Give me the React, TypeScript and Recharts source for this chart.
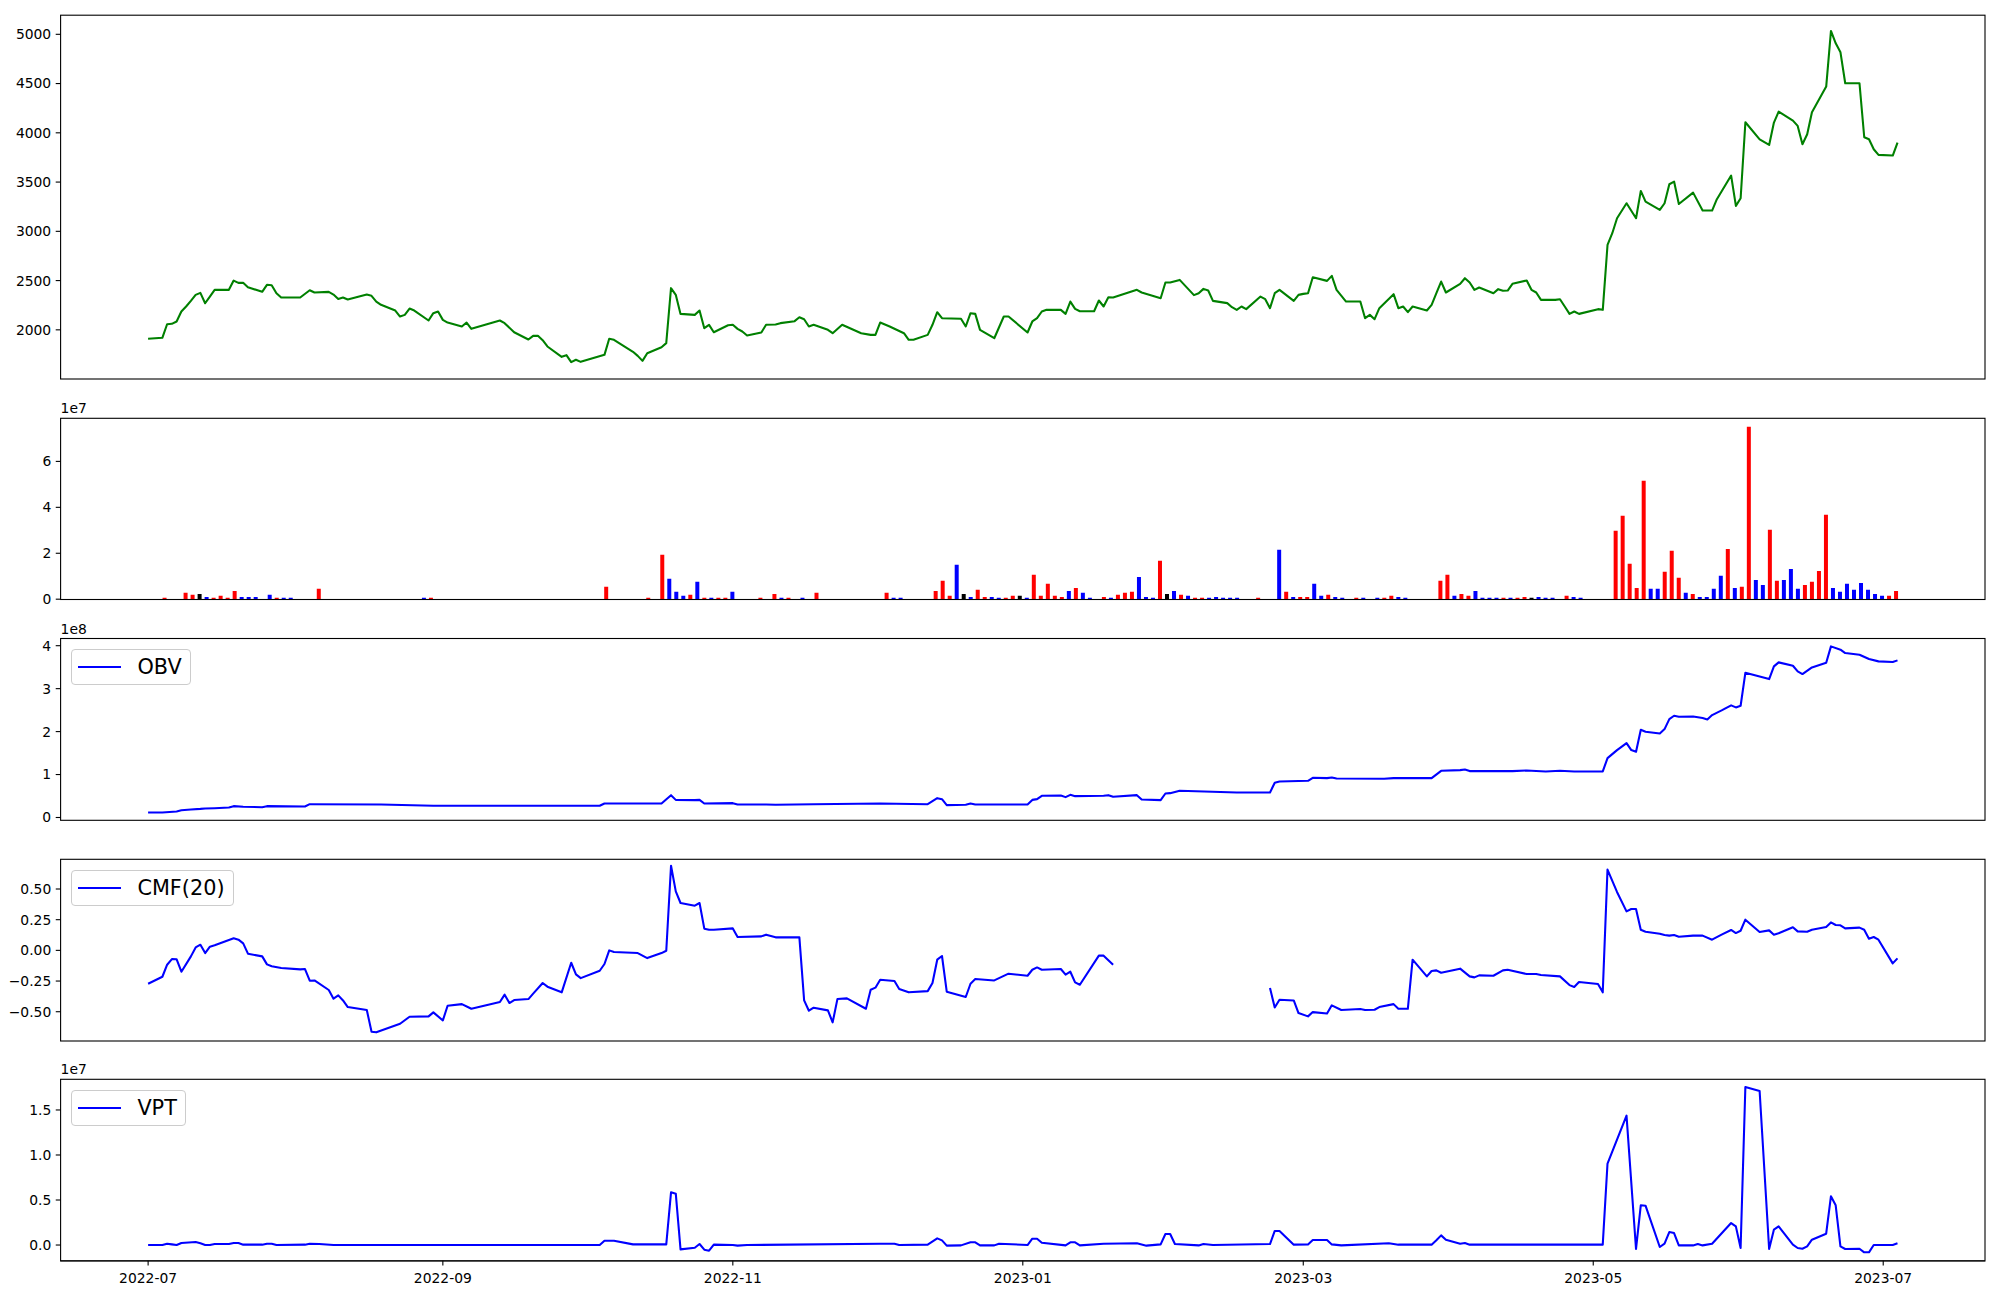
import React from "react"
import { LineChart, Line, BarChart, Bar, Cell, XAxis, YAxis, Legend } from "recharts"

// ---- data ----
// x for the line panels = days since 2022-07-01
const monthTicks = [0, 62, 123, 184, 243, 304, 365]
const monthLabels = ["2022-07", "2022-09", "2022-11", "2023-01", "2023-03", "2023-05", "2023-07"]

const priceSeries: [number, number][] = [
  [0, 1909], [3, 1919], [4, 2057], [5, 2061], [6, 2085], [7, 2186], [8, 2237], [9, 2294], [10, 2355], [11, 2375],
  [12, 2270], [13, 2338], [14, 2406], [17, 2406], [18, 2500], [19, 2477], [20, 2477], [21, 2433], [24, 2386], [25, 2457],
  [26, 2453], [27, 2372], [28, 2328], [32, 2328], [34, 2402], [35, 2379], [38, 2385], [39, 2358], [40, 2314], [41, 2328],
  [42, 2308], [46, 2358], [47, 2345], [48, 2287], [49, 2254], [52, 2196], [53, 2135], [54, 2152], [55, 2216], [56, 2196],
  [59, 2095], [60, 2169], [61, 2186], [62, 2101], [63, 2074], [66, 2034], [67, 2074], [68, 2010], [74, 2095], [75, 2068],
  [77, 1976], [80, 1902], [81, 1939], [82, 1939], [83, 1895], [84, 1831], [87, 1726], [88, 1743], [89, 1672], [90, 1696],
  [91, 1675], [96, 1746], [97, 1909], [98, 1899], [102, 1777], [103, 1736], [104, 1685], [105, 1763], [108, 1824], [109, 1865],
  [110, 2423], [111, 2355], [112, 2162], [115, 2152], [116, 2196], [117, 2017], [118, 2051], [119, 1976], [122, 2047], [123, 2051],
  [124, 2010], [125, 1983], [126, 1943], [129, 1973], [130, 2051], [132, 2054], [133, 2068], [136, 2088], [137, 2128], [138, 2108],
  [139, 2034], [140, 2051], [143, 2000], [144, 1966], [146, 2051], [150, 1966], [152, 1949], [153, 1949], [154, 2074], [156, 2034],
  [159, 1966], [160, 1899], [161, 1899], [164, 1949], [165, 2051], [166, 2179], [167, 2118], [171, 2112], [172, 2034], [173, 2169],
  [174, 2162], [175, 2000], [178, 1915], [180, 2135], [181, 2135], [185, 1973], [186, 2085], [187, 2118], [188, 2186], [189, 2203],
  [192, 2203], [193, 2162], [194, 2287], [195, 2213], [196, 2189], [199, 2189], [200, 2298], [201, 2237], [202, 2331], [203, 2328],
  [208, 2406], [209, 2379], [213, 2321], [214, 2480], [215, 2480], [217, 2507], [220, 2352], [221, 2372], [222, 2416], [223, 2399],
  [224, 2294], [227, 2271], [228, 2230], [229, 2203], [230, 2237], [231, 2210], [234, 2338], [235, 2311], [236, 2220], [237, 2372],
  [238, 2406], [241, 2294], [242, 2355], [243, 2365], [244, 2372], [245, 2534], [248, 2497], [249, 2548], [250, 2406], [252, 2287],
  [255, 2287], [256, 2118], [257, 2152], [258, 2108], [259, 2220], [262, 2362], [263, 2220], [264, 2237], [265, 2179], [266, 2237],
  [269, 2196], [270, 2254], [271, 2372], [272, 2490], [273, 2379], [276, 2467], [277, 2524], [278, 2480], [279, 2406], [280, 2430],
  [283, 2372], [284, 2413], [285, 2396], [286, 2399], [287, 2467], [290, 2501], [291, 2406], [292, 2379], [293, 2304], [296, 2304],
  [297, 2311], [298, 2237], [299, 2162], [300, 2186], [301, 2162], [305, 2210], [306, 2203], [307, 2862], [308, 2981], [309, 3133],
  [311, 3285], [313, 3133], [314, 3410], [315, 3302], [318, 3218], [319, 3285], [320, 3478], [321, 3505], [322, 3278], [325, 3393],
  [327, 3211], [329, 3211], [330, 3326], [333, 3566], [334, 3258], [335, 3336], [336, 4107], [339, 3934], [341, 3877], [342, 4104],
  [343, 4215], [346, 4124], [347, 4070], [348, 3884], [349, 3985], [350, 4208], [353, 4469], [354, 5034], [355, 4909], [356, 4817],
  [357, 4503], [360, 4503], [361, 3955], [362, 3934], [363, 3833], [364, 3776], [367, 3769], [368, 3901],
]

// volume: [bar index, volume in 1e7, direction 1 up / -1 down / 0 flat]
const volumeBars: [number, number, number][] = [
  [2, 0.06, 1], [5, 0.28, 1], [6, 0.19, 1], [7, 0.23, 0], [8, 0.1, -1], [9, 0.06, 1], [10, 0.15, 1], [11, 0.06, 1],
  [12, 0.36, 1], [13, 0.1, -1], [14, 0.1, -1], [15, 0.1, -1], [17, 0.19, -1], [18, 0.06, 1], [19, 0.06, -1], [20, 0.06, -1],
  [24, 0.45, 1], [39, 0.06, -1], [40, 0.06, 1], [65, 0.54, 1], [71, 0.06, 1], [73, 1.93, 1], [74, 0.89, -1], [75, 0.32, -1],
  [76, 0.15, -1], [77, 0.19, 1], [78, 0.76, -1], [79, 0.06, 1], [80, 0.06, -1], [81, 0.06, 1], [82, 0.06, 1], [83, 0.32, -1],
  [87, 0.06, 1], [89, 0.23, 1], [90, 0.06, -1], [91, 0.06, 1], [93, 0.06, -1], [95, 0.28, 1], [105, 0.28, 1], [106, 0.06, -1],
  [107, 0.06, -1], [112, 0.36, 1], [113, 0.8, 1], [114, 0.15, 1], [115, 1.5, -1], [116, 0.23, 0], [117, 0.1, -1], [118, 0.41, 1],
  [119, 0.1, 1], [120, 0.1, -1], [121, 0.06, -1], [122, 0.06, 1], [123, 0.15, 1], [124, 0.15, 0], [125, 0.06, -1], [126, 1.06, 1],
  [127, 0.15, 1], [128, 0.67, 1], [129, 0.15, 1], [130, 0.1, 1], [131, 0.36, -1], [132, 0.49, 1], [133, 0.28, -1], [134, 0.06, -1],
  [136, 0.1, 1], [137, 0.06, -1], [138, 0.19, 1], [139, 0.28, 1], [140, 0.32, 1], [141, 0.97, -1], [142, 0.1, -1], [143, 0.06, -1],
  [144, 1.67, 1], [145, 0.23, 0], [146, 0.36, -1], [147, 0.19, 1], [148, 0.15, -1], [149, 0.06, 1], [150, 0.06, 1], [151, 0.06, -1],
  [152, 0.1, -1], [153, 0.06, -1], [154, 0.06, -1], [155, 0.06, -1], [158, 0.06, 1], [161, 2.15, -1], [162, 0.32, 1], [163, 0.1, -1],
  [164, 0.1, 1], [165, 0.1, 1], [166, 0.67, -1], [167, 0.15, -1], [168, 0.19, 1], [169, 0.1, -1], [170, 0.06, -1], [172, 0.06, 1],
  [173, 0.06, -1], [175, 0.06, -1], [176, 0.06, 1], [177, 0.15, 1], [178, 0.1, -1], [179, 0.06, -1], [184, 0.8, 1], [185, 1.06, 1],
  [186, 0.15, -1], [187, 0.23, 1], [188, 0.15, 1], [189, 0.36, -1], [190, 0.06, -1], [191, 0.06, -1], [192, 0.06, -1], [193, 0.06, 1],
  [194, 0.06, -1], [195, 0.06, 1], [196, 0.1, 1], [197, 0.06, 0], [198, 0.1, -1], [199, 0.06, -1], [200, 0.06, -1], [202, 0.15, 1],
  [203, 0.1, -1], [204, 0.06, -1], [209, 2.98, 1], [210, 3.63, 1], [211, 1.54, 1], [212, 0.49, 1], [213, 5.16, 1], [214, 0.45, -1],
  [215, 0.45, -1], [216, 1.19, 1], [217, 2.11, 1], [218, 0.93, 1], [219, 0.28, -1], [220, 0.23, 1], [221, 0.1, -1], [222, 0.1, -1],
  [223, 0.45, -1], [224, 1.02, -1], [225, 2.19, 1], [226, 0.49, -1], [227, 0.54, 1], [228, 7.51, 1], [229, 0.84, -1], [230, 0.62, -1],
  [231, 3.02, 1], [232, 0.8, 1], [233, 0.84, -1], [234, 1.32, -1], [235, 0.45, -1], [236, 0.62, 1], [237, 0.76, 1], [238, 1.23, 1],
  [239, 3.68, 1], [240, 0.49, -1], [241, 0.32, -1], [242, 0.67, -1], [243, 0.41, -1], [244, 0.71, -1], [245, 0.41, -1], [246, 0.23, -1],
  [247, 0.15, -1], [248, 0.15, 1], [249, 0.36, 1],
]

// OBV in 1e8
const obvSeries: [number, number][] = [
  [0, 0.117], [3, 0.117], [6, 0.14], [7, 0.17], [9, 0.186], [11, 0.2], [12, 0.21], [14, 0.217], [17, 0.233], [18, 0.264],
  [20, 0.249], [24, 0.24], [25, 0.264], [33, 0.256], [34, 0.31], [49, 0.303], [60, 0.272], [95, 0.272], [96, 0.326], [108, 0.326],
  [110, 0.52], [111, 0.41], [115, 0.404], [116, 0.41], [117, 0.326], [123, 0.334], [124, 0.303], [130, 0.303], [132, 0.295], [140, 0.31],
  [154, 0.326], [164, 0.31], [166, 0.45], [167, 0.427], [168, 0.287], [172, 0.295], [173, 0.326], [174, 0.303], [185, 0.303], [186, 0.41],
  [187, 0.427], [188, 0.505], [192, 0.513], [193, 0.474], [194, 0.528], [195, 0.497], [201, 0.505], [202, 0.52], [203, 0.482], [208, 0.52],
  [209, 0.419], [213, 0.404], [214, 0.559], [215, 0.567], [217, 0.621], [229, 0.583], [236, 0.583], [237, 0.808], [238, 0.839], [244, 0.854],
  [245, 0.924], [248, 0.917], [249, 0.932], [250, 0.909], [260, 0.901], [262, 0.917], [270, 0.917], [272, 1.087], [276, 1.103], [277, 1.118],
  [278, 1.08], [287, 1.08], [290, 1.095], [294, 1.072], [297, 1.087], [300, 1.072], [306, 1.072], [307, 1.383], [309, 1.569], [311, 1.732],
  [312, 1.569], [313, 1.53], [314, 2.043], [315, 1.996], [318, 1.957], [319, 2.058], [320, 2.291], [321, 2.369], [322, 2.346], [325, 2.353],
  [327, 2.315], [328, 2.283], [329, 2.384], [331, 2.493], [333, 2.61], [334, 2.563], [335, 2.602], [336, 3.371], [341, 3.223], [342, 3.518],
  [343, 3.612], [346, 3.534], [347, 3.402], [348, 3.34], [350, 3.495], [353, 3.604], [354, 3.984], [356, 3.907], [357, 3.829], [360, 3.79],
  [362, 3.689], [364, 3.635], [367, 3.619], [368, 3.658],
]

// CMF(20); null = missing stretch
const cmfSeries: [number, number | null][] = [
  [0, -0.272], [3, -0.215], [4, -0.117], [5, -0.071], [6, -0.073], [7, -0.174], [9, -0.049], [10, 0.024], [11, 0.046], [12, -0.022],
  [13, 0.03], [14, 0.041], [18, 0.098], [19, 0.087], [20, 0.057], [21, -0.027], [24, -0.049], [25, -0.114], [26, -0.13], [28, -0.144],
  [32, -0.155], [33, -0.152], [34, -0.247], [35, -0.245], [38, -0.323], [39, -0.394], [40, -0.367], [41, -0.408], [42, -0.462], [46, -0.486],
  [47, -0.663], [48, -0.668], [53, -0.598], [55, -0.541], [59, -0.538], [60, -0.505], [62, -0.571], [63, -0.451], [66, -0.438], [68, -0.476],
  [74, -0.421], [75, -0.361], [76, -0.429], [77, -0.405], [80, -0.397], [81, -0.353], [83, -0.266], [84, -0.296], [87, -0.342], [89, -0.101],
  [90, -0.196], [91, -0.226], [95, -0.166], [96, -0.111], [97, 0.0], [98, -0.014], [103, -0.022], [105, -0.063], [108, -0.022], [109, -0.003],
  [110, 0.69], [111, 0.481], [112, 0.386], [115, 0.364], [116, 0.386], [117, 0.177], [118, 0.168], [119, 0.168], [123, 0.179], [124, 0.109],
  [129, 0.114], [130, 0.128], [132, 0.106], [137, 0.106], [138, -0.408], [139, -0.492], [140, -0.467], [143, -0.489], [144, -0.587], [145, -0.397],
  [147, -0.391], [151, -0.476], [152, -0.321], [153, -0.304], [154, -0.239], [157, -0.25], [158, -0.315], [160, -0.342], [164, -0.332], [165, -0.266],
  [166, -0.076], [167, -0.046], [168, -0.337], [172, -0.38], [173, -0.272], [174, -0.234], [178, -0.245], [181, -0.19], [185, -0.207], [186, -0.158],
  [187, -0.139], [188, -0.158], [192, -0.152], [193, -0.198], [194, -0.174], [195, -0.261], [196, -0.28], [200, -0.043], [201, -0.043], [203, -0.117],
  [220, null],
  [236, -0.307], [237, -0.465], [238, -0.402], [241, -0.408], [242, -0.511], [244, -0.538], [245, -0.503], [248, -0.514], [249, -0.448], [251, -0.486],
  [255, -0.478], [256, -0.486], [258, -0.484], [259, -0.462], [262, -0.438], [263, -0.476], [265, -0.476], [266, -0.076], [269, -0.212], [270, -0.168],
  [271, -0.163], [272, -0.182], [276, -0.149], [278, -0.212], [279, -0.22], [280, -0.204], [283, -0.207], [285, -0.163], [286, -0.158], [290, -0.193],
  [292, -0.193], [293, -0.201], [297, -0.212], [299, -0.283], [300, -0.299], [301, -0.258], [305, -0.274], [306, -0.342], [307, 0.658], [309, 0.476],
  [311, 0.318], [312, 0.337], [313, 0.337], [314, 0.168], [315, 0.152], [318, 0.136], [319, 0.125], [320, 0.12], [321, 0.125], [322, 0.111],
  [325, 0.12], [327, 0.12], [329, 0.087], [331, 0.128], [333, 0.166], [334, 0.141], [335, 0.16], [336, 0.25], [339, 0.149], [341, 0.163],
  [342, 0.128], [343, 0.139], [346, 0.188], [347, 0.155], [349, 0.152], [350, 0.168], [353, 0.19], [354, 0.228], [355, 0.207], [356, 0.204],
  [357, 0.179], [360, 0.185], [361, 0.168], [362, 0.095], [363, 0.109], [364, 0.087], [367, -0.106], [368, -0.065],
]

// VPT in 1e7
const vptSeries: [number, number][] = [
  [0, 0], [3, 0], [4, 0.015], [5, 0.007], [6, 0], [7, 0.022], [10, 0.033], [11, 0.019], [12, 0], [13, 0],
  [14, 0.011], [17, 0.011], [18, 0.022], [19, 0.022], [20, 0.004], [24, 0.004], [25, 0.015], [26, 0.015], [27, 0], [33, 0.004],
  [34, 0.015], [36, 0.011], [39, 0], [95, 0], [96, 0.048], [98, 0.048], [102, 0.007], [109, 0.007], [110, 0.585], [111, 0.57],
  [112, -0.048], [115, -0.03], [116, 0.011], [117, -0.052], [118, -0.063], [119, 0.004], [123, 0], [124, -0.007], [126, 0], [154, 0.015],
  [157, 0.015], [158, 0], [164, 0.004], [166, 0.074], [167, 0.052], [168, -0.007], [171, -0.004], [173, 0.03], [174, 0.03], [175, -0.004],
  [178, -0.004], [179, 0.015], [185, 0], [186, 0.07], [187, 0.07], [188, 0.026], [193, -0.004], [194, 0.03], [195, 0.03], [196, -0.004],
  [201, 0.015], [208, 0.019], [210, -0.007], [213, 0.007], [214, 0.122], [215, 0.122], [216, 0.011], [221, -0.004], [222, 0.011], [224, 0],
  [236, 0.011], [237, 0.156], [238, 0.156], [241, 0.004], [244, 0.007], [245, 0.056], [248, 0.056], [249, 0.007], [251, -0.004], [261, 0.019],
  [263, 0.004], [270, 0.004], [271, 0.052], [272, 0.107], [273, 0.059], [276, 0.015], [277, 0.022], [278, 0.004], [306, 0.004], [307, 0.904],
  [311, 1.437], [313, -0.044], [314, 0.441], [315, 0.437], [318, -0.022], [319, 0.015], [320, 0.144], [321, 0.133], [322, -0.004], [325, -0.004],
  [326, 0.011], [327, -0.004], [329, 0.015], [333, 0.244], [334, 0.207], [335, -0.033], [336, 1.756], [339, 1.711], [341, -0.044], [342, 0.17],
  [343, 0.207], [346, 0.004], [347, -0.033], [348, -0.041], [349, -0.015], [350, 0.059], [353, 0.126], [354, 0.541], [355, 0.441], [356, -0.015],
  [357, -0.044], [360, -0.041], [361, -0.081], [362, -0.081], [363, 0], [367, 0], [368, 0.019],
]

// ---- layout ----
const FONT = "'DejaVu Sans', sans-serif"
const W = 2000
const PLOT_LEFT = 60.6
const PLOT_RIGHT = 1985
const PAD = 10
const DAY_DOMAIN: [number, number] = [-18.4, 386.4]
const BAR_DOMAIN: [number, number] = [-12.75, 261.75]

const axisStroke = { stroke: "#000", strokeWidth: 1.1 }
const tickStyle = { fill: "#000", fontSize: 13.9, fontFamily: FONT }

const dirColor = (dir: number) => (dir > 0 ? "#ff0000" : dir < 0 ? "#0000ff" : "#000000")
const minus = (s: string) => s.replace("-", "\u2212")

function LegendBox({ payload }: any) {
  const item = payload?.[0]
  if (!item) return null
  return (
    <div
      style={{
        display: "inline-flex", alignItems: "center", height: 36, boxSizing: "border-box",
        border: "1px solid #cccccc", borderRadius: 4, background: "rgba(255,255,255,0.8)",
        padding: "0 8px 0 6px", fontFamily: FONT, fontSize: 20.8, color: "#000", whiteSpace: "nowrap",
      }}
    >
      <span style={{ display: "inline-block", width: 43, borderTop: `2px solid ${item.color}`, marginRight: 16 }} />
      <span>{item.value}</span>
    </div>
  )
}

interface LinePanelProps {
  y0: number
  y1: number
  series: [number, number | null][]
  color: string
  name?: string
  yDomain: [number, number]
  yTicks: number[]
  fmt: (v: number) => string
  dates?: boolean
}

function LinePanel({ y0, y1, series, color, name, yDomain, yTicks, fmt, dates }: LinePanelProps) {
  const rows = series.map(([d, v]) => ({ d, v }))
  const xH = dates ? 30 : 0
  const bottom = dates ? 36 : PAD
  return (
    <div style={{ position: "absolute", left: 0, top: y0 - PAD }}>
      <LineChart
        width={W}
        height={y1 - y0 + PAD + bottom}
        data={rows}
        margin={{ top: PAD, right: W - PLOT_RIGHT, bottom: bottom - xH, left: 0 }}
      >
        <XAxis
          type="number" dataKey="d" domain={DAY_DOMAIN} allowDataOverflow height={xH}
          ticks={dates ? monthTicks : undefined} interval={0}
          tick={dates ? tickStyle : false} tickLine={dates ? axisStroke : false}
          tickSize={4.9} tickMargin={7.5} axisLine={dates ? axisStroke : false}
          tickFormatter={(v: number) => monthLabels[monthTicks.indexOf(v)] ?? ""}
        />
        <YAxis
          type="number" domain={yDomain} allowDataOverflow ticks={yTicks} interval={0} width={PLOT_LEFT}
          tick={tickStyle} tickLine={axisStroke} tickSize={4.9} tickMargin={4.5} axisLine={false}
          tickFormatter={fmt}
        />
        <Line
          type="linear" dataKey="v" name={name} stroke={color} strokeWidth={2.08} dot={false}
          activeDot={false} strokeLinejoin="round" isAnimationActive={false}
        />
        {name && (
          <Legend
            layout="horizontal" verticalAlign="middle" align="center"
            wrapperStyle={{ top: PAD + 10.5, left: 71.4, width: "auto", height: "auto" }}
            content={(p: any) => <LegendBox payload={p.payload} />}
          />
        )}
      </LineChart>
    </div>
  )
}

function VolumePanel({ y0, y1 }: { y0: number; y1: number }) {
  const rows = volumeBars.map(([i, v, dir]) => ({ i, v, dir }))
  return (
    <div style={{ position: "absolute", left: 0, top: y0 - PAD }}>
      <BarChart
        width={W}
        height={y1 - y0 + 2 * PAD}
        data={rows}
        margin={{ top: PAD, right: W - PLOT_RIGHT, bottom: PAD, left: 0 }}
      >
        <XAxis type="number" dataKey="i" domain={BAR_DOMAIN} allowDataOverflow height={0}
          tick={false} tickLine={false} axisLine={false} />
        <YAxis
          type="number" domain={[0, 7.89]} allowDataOverflow ticks={[0, 2, 4, 6]} interval={0} width={PLOT_LEFT}
          tick={tickStyle} tickLine={axisStroke} tickSize={4.9} tickMargin={4.5} axisLine={false}
          tickFormatter={(v: number) => String(v)}
        />
        <Bar dataKey="v" barSize={4} isAnimationActive={false}>
          {rows.map((r) => (
            <Cell key={r.i} fill={dirColor(r.dir)} />
          ))}
        </Bar>
      </BarChart>
    </div>
  )
}

const P1: [number, number] = [15.2, 379]
const P2: [number, number] = [418.3, 599.5]
const P3: [number, number] = [638.5, 820.3]
const P4: [number, number] = [859.3, 1041]
const P5: [number, number] = [1079.3, 1261]
const PANELS = [P1, P2, P3, P4, P5]

export default function App() {
  return (
    <div style={{ position: "absolute", left: 0, top: 0, width: W, height: 1300, background: "#fff", overflow: "hidden" }}>
      <LinePanel
        y0={P1[0]} y1={P1[1]} series={priceSeries} color="#008000"
        yDomain={[1503, 5196]} yTicks={[2000, 2500, 3000, 3500, 4000, 4500, 5000]}
        fmt={(v) => String(v)}
      />
      <VolumePanel y0={P2[0]} y1={P2[1]} />
      <LinePanel
        y0={P3[0]} y1={P3[1]} series={obvSeries} color="#0000ff" name="OBV"
        yDomain={[-0.077, 4.156]} yTicks={[0, 1, 2, 3, 4]}
        fmt={(v) => String(v)}
      />
      <LinePanel
        y0={P4[0]} y1={P4[1]} series={cmfSeries} color="#0000ff" name="CMF(20)"
        yDomain={[-0.736, 0.7445]} yTicks={[-0.5, -0.25, 0, 0.25, 0.5]}
        fmt={(v) => minus(v.toFixed(2))}
      />
      <LinePanel
        y0={P5[0]} y1={P5[1]} series={vptSeries} color="#0000ff" name="VPT"
        yDomain={[-0.174, 1.844]} yTicks={[0, 0.5, 1, 1.5]}
        fmt={(v) => minus(v.toFixed(1))} dates
      />
      {/* axes frames (spines) and offset texts */}
      <svg width={W} height={1300} style={{ position: "absolute", left: 0, top: 0, pointerEvents: "none" }}>
        {PANELS.map(([a, b], k) => (
          <rect key={k} x={PLOT_LEFT} y={a} width={PLOT_RIGHT - PLOT_LEFT} height={b - a}
            fill="none" stroke="#000" strokeWidth={1.1} />
        ))}
        <g fontFamily={FONT} fontSize={13.9} fill="#000">
          <text x={PLOT_LEFT} y={P2[0] - 5}>1e7</text>
          <text x={PLOT_LEFT} y={P3[0] - 4.5}>1e8</text>
          <text x={PLOT_LEFT} y={P5[0] - 5}>1e7</text>
        </g>
      </svg>
    </div>
  )
}
